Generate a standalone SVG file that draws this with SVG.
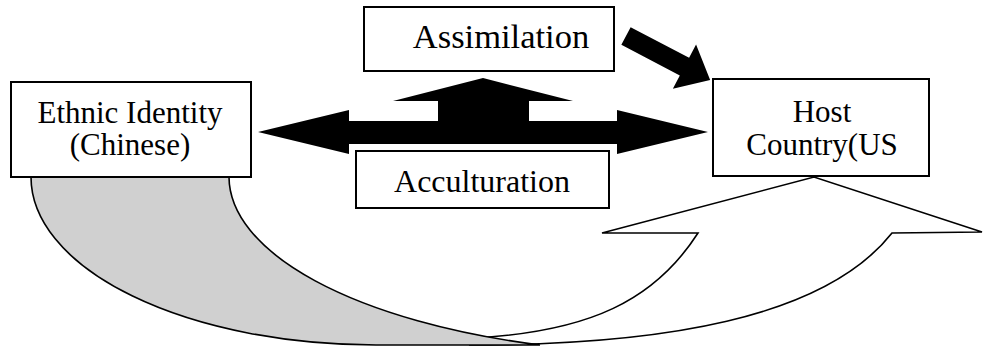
<svg xmlns="http://www.w3.org/2000/svg" width="996" height="349" viewBox="0 0 996 349">
<style>
.box{fill:#fff;stroke:#000;stroke-width:2}
.blk{fill:#000;stroke:none}
.crv{stroke:#000;stroke-width:1.6;stroke-linejoin:miter}
</style>
<rect width="996" height="349" fill="#fff"/>
<g id="connectors">
  <path id="curved-front" class="crv" fill="#fff" d="M473,338 C590,332 655,300 698,233 L602,233 L814,177 L982,232 L892,233 C824,319 660,345 470,345 Z"/>
  <path id="curved-back" class="crv" fill="#d0d0d0" d="M31,177 A345,168 0 0 0 376,345 L540,345 A450,177 0 0 1 229,177 Z"/>
  <polygon id="double-arrow" class="blk" points="258,132 349,110 349,121 438,121 438,101 393,101 483,78 573,101 529,101 529,121 617,121 617,110 708,132 617,154 617,144 349,144 349,154"/>
  <polygon id="diag-arrow" class="blk" transform="translate(626,36) rotate(27.65)" points="0,-10 66,-10 66,-25 95,0 66,25 66,10 0,10"/>
</g>
<g id="ethnic" font-family="Liberation Serif, Times New Roman, DejaVu Serif, serif" text-anchor="middle">
  <rect class="box" x="11" y="82" width="240" height="95"/>
  <text x="130" y="123" font-size="31">Ethnic Identity</text>
  <text x="130" y="155" font-size="31">(Chinese)</text>
</g>
<g id="host" font-family="Liberation Serif, Times New Roman, DejaVu Serif, serif" text-anchor="middle">
  <rect class="box" x="713" y="79" width="216" height="97"/>
  <text x="822" y="122" font-size="31">Host</text>
  <text x="822" y="155" font-size="31">Country(US</text>
</g>
<g id="assimilation" font-family="Liberation Serif, Times New Roman, DejaVu Serif, serif" text-anchor="middle">
  <rect class="box" x="364" y="7" width="250" height="64"/>
  <text x="501" y="48" font-size="34.5">Assimilation</text>
</g>
<g id="acculturation" font-family="Liberation Serif, Times New Roman, DejaVu Serif, serif" text-anchor="middle">
  <rect class="box" x="356" y="151" width="253" height="57"/>
  <text x="482" y="192" font-size="32">Acculturation</text>
</g>
</svg>
